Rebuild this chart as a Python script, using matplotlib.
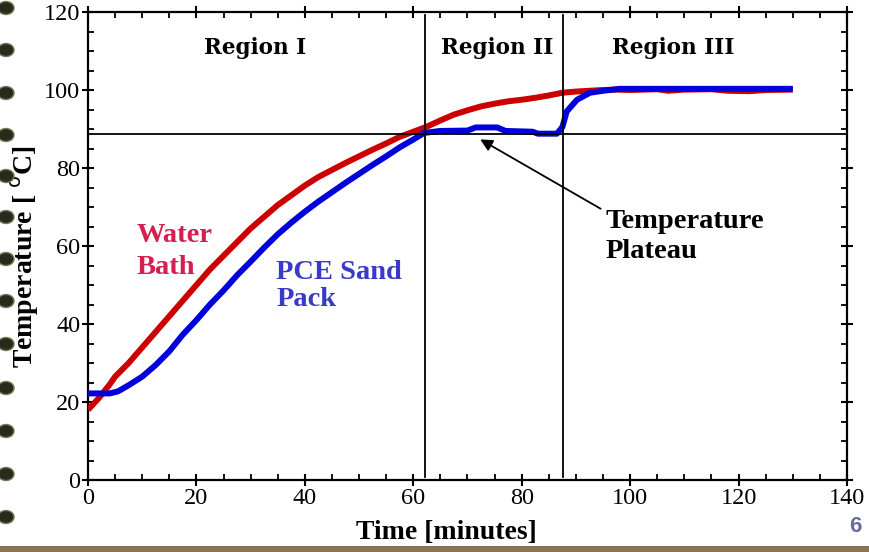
import matplotlib
matplotlib.use("Agg")
import matplotlib.pyplot as plt
from matplotlib.patches import Ellipse, Rectangle
from matplotlib.ticker import MultipleLocator

# Water bath temperature (deg C) vs time (minutes)
bath_t = [0, 2, 4, 5, 7.5, 10, 12.5, 15, 17.5, 20, 22.5, 25, 27.5, 30, 32.5, 35,
          37.5, 40, 42.5, 45, 47.5, 50, 52.5, 55, 57.5, 60, 62.5, 65, 67.5, 70,
          72.5, 75, 77.5, 80, 82.5, 85, 87.5, 90, 92.5, 95, 97.5, 100, 105, 107,
          110, 115, 118, 122, 125, 130]
bath_T = [18, 21, 24.5, 26.5, 30, 34, 38, 42, 46, 50, 54, 57.5, 61, 64.5, 67.5, 70.5,
          73, 75.5, 77.7, 79.5, 81.3, 83, 84.7, 86.3, 88, 89.3, 90.6, 92.2, 93.7, 94.8,
          95.8, 96.5, 97.1, 97.5, 98.0, 98.6, 99.3, 99.6, 99.8, 100.0, 100.1, 100.0, 100.2, 99.8,
          100.1, 100.2, 99.8, 99.7, 100.0, 100.1]

# PCE sand pack temperature
sand_t = [0, 2, 4, 5.5, 7.5, 10, 12.5, 15, 17.5, 20, 22.5, 25, 27.5, 30, 32.5, 35,
          37.5, 40, 42.5, 45, 47.5, 50, 52.5, 55, 57.5, 60, 62, 65, 70, 71.5, 75.5,
          77, 82, 83, 86.5, 87.5, 88.3, 90.2, 92.6, 95, 98, 110, 130]
sand_T = [22.2, 22.2, 22.2, 22.7, 24.3, 26.5, 29.5, 33, 37.3, 41, 45, 48.6, 52.5, 56, 59.6, 63,
          66, 68.8, 71.4, 73.8, 76.2, 78.5, 80.8, 83, 85.3, 87.3, 89.0, 89.5, 89.6, 90.4, 90.4,
          89.5, 89.3, 88.8, 88.8, 90.5, 94.5, 97.5, 99.3, 99.8, 100.3, 100.3, 100.3]

region_bounds = [62.2, 87.6]
plateau_T = 88.7
region_names = ["Region I", "Region II", "Region III"]
region_x = [30.8, 75.4, 107.9]

fig = plt.figure(figsize=(8.69, 5.52), dpi=100)
ax = fig.add_axes([88 / 869, 1 - 480 / 552, 759 / 869, 468 / 552])

serif = "Liberation Serif"

ax.plot(bath_t, bath_T, color="#cc0000", lw=4.3, solid_capstyle="butt", zorder=3)
ax.plot(sand_t, sand_T, color="#0000dd", lw=4.3, solid_capstyle="butt", zorder=4)

for xb in region_bounds:
    ax.axvline(xb, ymin=0.006, ymax=0.993, color="black", lw=1.3, zorder=5)
ax.axhline(plateau_T, color="black", lw=1.3, zorder=5)

ax.set_xlim(0, 140)
ax.set_ylim(0, 120)
ax.xaxis.set_major_locator(MultipleLocator(20))
ax.xaxis.set_minor_locator(MultipleLocator(5))
ax.yaxis.set_major_locator(MultipleLocator(20))
ax.yaxis.set_minor_locator(MultipleLocator(5))
ax.tick_params(which="major", direction="inout", length=9, width=1.5,
               top=True, right=True, labelsize=17.5, pad=1)
ax.tick_params(which="minor", direction="in", length=4, width=1.3, top=True, right=True)
for lab in ax.get_xticklabels() + ax.get_yticklabels():
    lab.set_fontfamily(serif)
for sp in ax.spines.values():
    sp.set_linewidth(1.6)

ax.text(0.4717, -0.113, "Time [minutes]", transform=ax.transAxes, ha="center", va="center",
        fontsize=20, fontweight="bold", family=serif)
ax.text(-0.083, 0.4765, "Temperature [ $^{\\rm o}$C]", transform=ax.transAxes, ha="center",
        va="center", rotation=90, fontsize=20, fontweight="bold", family=serif)

for name, xr in zip(region_names, region_x):
    ax.text(xr, 110.8, name, ha="center", va="center", fontsize=15.5, fontweight="bold",
            family="DejaVu Serif")

lab_kw = dict(fontsize=20.5, fontweight="bold", family=serif, va="center")
ax.text(9.0, 62.8, "Water", color="#d4204e", **lab_kw)
ax.text(9.0, 54.4, "Bath", color="#d4204e", **lab_kw)
ax.text(34.7, 53.1, "PCE Sand", color="#3a3ac8", **lab_kw)
ax.text(34.7, 46.2, "Pack", color="#3a3ac8", **lab_kw)
ax.text(95.4, 66.2, "Temperature", color="black", **lab_kw)
ax.text(95.4, 58.5, "Plateau", color="black", **lab_kw)
ax.annotate("", xy=(71.9, 87.7), xytext=(95.0, 69.2),
            arrowprops=dict(arrowstyle="-|>", color="black", lw=1.3, mutation_scale=18),
            zorder=6)

# slide decorations: spiral binding, bottom band, page number
for yy in [8, 50, 93, 135, 176, 217, 259, 301, 344, 388, 431, 474, 517]:
    fig.patches.append(Ellipse((6 / 869, 1 - yy / 552), 16 / 869, 13 / 552,
                               transform=fig.transFigure, facecolor="#2a2a1c",
                               edgecolor="#77775a", lw=1.0))
fig.patches.append(Rectangle((0, 0), 1, 6 / 552, transform=fig.transFigure,
                             facecolor="#8c7355", edgecolor="none"))
fig.text(855 / 869, 1 - 527 / 552, "6", color="#6a6a9e", fontsize=16, fontweight="bold",
         family="Liberation Sans", ha="center", va="center")

fig.savefig("out.png", dpi=100)
